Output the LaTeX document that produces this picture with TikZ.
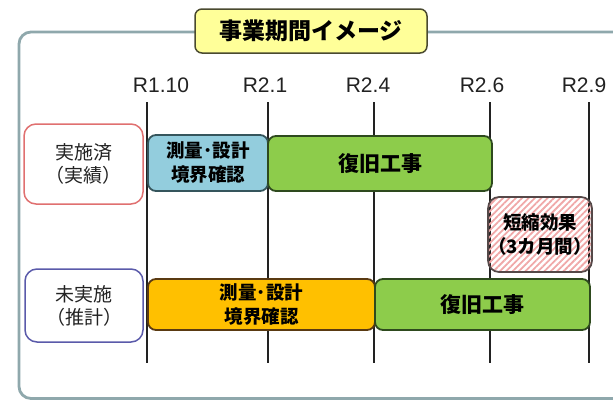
\documentclass[tikz,border=0pt]{standalone}
\usepackage{fontspec}
\setmainfont{Liberation Sans}
\newfontfamily\jp{Noto Sans CJK JP}
\usetikzlibrary{patterns.meta}
\definecolor{framegray}{HTML}{8FA8AC}
\definecolor{titlefill}{HTML}{FFFF99}
\definecolor{titleedge}{HTML}{4A4A30}
\definecolor{doneedge}{HTML}{E07070}
\definecolor{planedge}{HTML}{5A5AAA}
\definecolor{survblue}{HTML}{93CDDD}
\definecolor{survedge}{HTML}{35555C}
\definecolor{buildgreen}{HTML}{8DCC4B}
\definecolor{buildedge}{HTML}{2E4A1E}
\definecolor{survorange}{HTML}{FFC000}
\definecolor{orangeedge}{HTML}{5A3A12}
\definecolor{hatchpink}{HTML}{F0A8A8}
\definecolor{gainedge}{HTML}{554848}
\definecolor{inkgray}{HTML}{222222}

\begin{document}
\begin{tikzpicture}
  [x=1pt,y=-1pt,
   tick/.style={text=inkgray,inner sep=0pt,font=\fontsize{21}{24}\selectfont},
   grid/.style={inkgray,line width=1.5pt},
   rowbox/.style={draw=#1,fill=white,line width=1.5pt,rounded corners=12pt,
     inner sep=0pt,align=center,text=inkgray,font={\jp\fontsize{19}{23}\selectfont}},
   bar/.style={line width=1.8pt,rounded corners=8pt,inner sep=0pt,align=center,
     font={\jp\bfseries\fontsize{18.5}{24}\selectfont}}]
  \useasboundingbox (0,0) rectangle (613,402);
  \draw[framegray,line width=2.8pt,rounded corners=12pt] (19,32) rectangle (640,398.5);
  \node[draw=titleedge,fill=titlefill,line width=1.5pt,rounded corners=7pt,
    minimum width=232pt,minimum height=44pt,inner sep=0pt,
    font={\jp\bfseries\fontsize{23}{26}\selectfont}] (title) at (311,31) {事業期間イメージ};
  \foreach \x/\lab/\lx [count=\i] in {147/R1.10/161,268/R2.1/265,374/R2.4/368,490/R2.6/482,589/R2.9/584}
  {
    \node[tick] (t\i) at (\lx,85) {\lab};
    \coordinate (top\i) at (\x,102);
    \coordinate (bot\i) at (\x,363);
    \draw[grid] (top\i) -- (bot\i);
  }
  \node[rowbox=doneedge,minimum width=119pt,minimum height=80pt] (done) at (83.5,164) {実施済\\（実績）};
  \node[rowbox=planedge,minimum width=118pt,minimum height=73pt] (plan) at (84,305.5) {未実施\\（推計）};
  \node[bar,draw=survedge,fill=survblue,minimum width=120pt,minimum height=56pt] (survA) at (208,163) {測量･設計\\境界確認};
  \node[bar,draw=buildedge,fill=buildgreen,minimum width=224pt,minimum height=55pt,
    font={\jp\bfseries\fontsize{21}{24}\selectfont}] (buildA) at (380,163.5) {復旧工事};
  \node[bar,draw=gainedge,fill=white,minimum width=98pt,minimum height=75pt,rounded corners=11pt,
    pattern={Lines[angle=45,distance=4.5pt,line width=1.8pt]},pattern color=hatchpink] (gain) at (540,234.5) {短縮効果\\（3カ月間）};
  \node[bar,draw=orangeedge,fill=survorange,minimum width=227pt,minimum height=51pt] (survB) at (261.5,304.5) {測量･設計\\境界確認};
  \node[bar,draw=buildedge,fill=buildgreen,minimum width=215pt,minimum height=51pt,
    font={\jp\bfseries\fontsize{21}{24}\selectfont}] (buildB) at (482.5,304.5) {復旧工事};
\end{tikzpicture}
\end{document}
